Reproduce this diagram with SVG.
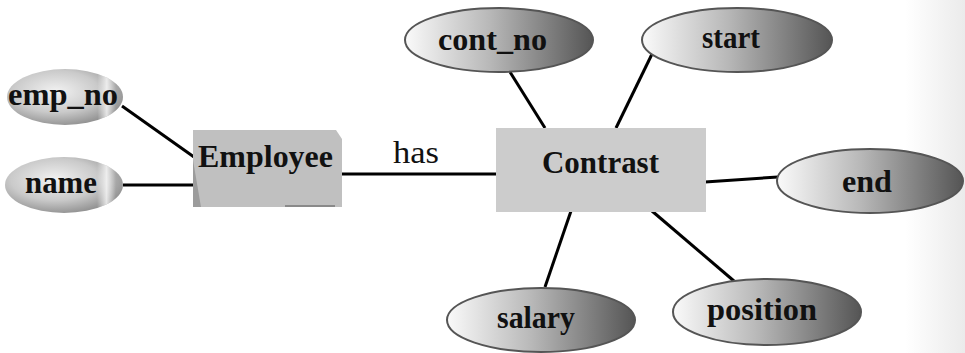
<svg xmlns="http://www.w3.org/2000/svg" width="965" height="353" viewBox="0 0 965 353">
  <defs>
    <linearGradient id="attrFill" x1="0" y1="0" x2="1" y2="0">
      <stop offset="0" stop-color="#fafafa"/>
      <stop offset="0.45" stop-color="#b8b8b8"/>
      <stop offset="1" stop-color="#555555"/>
    </linearGradient>
    <radialGradient id="keyFill" cx="0.42" cy="0.4" r="0.62">
      <stop offset="0" stop-color="#f2f2f2"/>
      <stop offset="0.6" stop-color="#cacaca"/>
      <stop offset="1" stop-color="#929292"/>
    </radialGradient>
    <linearGradient id="keyShine" x1="0" y1="0" x2="1" y2="0">
      <stop offset="0" stop-color="#ffffff" stop-opacity="0"/>
      <stop offset="0.78" stop-color="#ffffff" stop-opacity="0"/>
      <stop offset="0.86" stop-color="#ffffff" stop-opacity="0.75"/>
      <stop offset="0.94" stop-color="#ffffff" stop-opacity="0"/>
    </linearGradient>
    <linearGradient id="edge" x1="0" y1="0" x2="1" y2="0">
      <stop offset="0" stop-color="#ffffff"/>
      <stop offset="1" stop-color="#ebebeb"/>
    </linearGradient>
  </defs>
  <style>
    .lbl { font-family: "Liberation Serif", "DejaVu Serif", serif; font-weight: bold; font-size: 31px; fill: #111; }
    .rel { font-family: "Liberation Serif", "DejaVu Serif", serif; font-size: 32px; fill: #111; }
    .attr { fill: url(#attrFill); stroke: #555; stroke-width: 2; }
    .key { fill: url(#keyFill); }
    .shine { fill: url(#keyShine); }
    .link { stroke: #000; stroke-width: 3; fill: none; }
  </style>

  <rect x="0" y="0" width="965" height="353" fill="#ffffff"/>
  <rect x="905" y="0" width="60" height="353" fill="url(#edge)"/>

  <g id="connectors">
    <line class="link" x1="122" y1="106" x2="194" y2="157"/>
    <line class="link" x1="123" y1="185" x2="194" y2="185"/>
    <line class="link" x1="341" y1="174" x2="497" y2="174"/>
    <line class="link" x1="510" y1="72" x2="545" y2="128"/>
    <line class="link" x1="653" y1="52" x2="616" y2="128"/>
    <line class="link" x1="705" y1="182" x2="778" y2="177"/>
    <line class="link" x1="571" y1="211" x2="545" y2="287"/>
    <line class="link" x1="652" y1="211" x2="734" y2="281"/>
  </g>

  <g id="employee">
    <polygon points="193,130 336,130 342,139 342,207 193,207" fill="#c0c0c0"/>
    <polygon points="193,160 201,207 193,207" fill="#9c9c9c"/>
    <rect x="285" y="205" width="50" height="2" fill="#8a8a8a"/>
    <text class="lbl" x="198" y="167" textLength="135" lengthAdjust="spacingAndGlyphs">Employee</text>
  </g>

  <g id="contrast">
    <rect x="496" y="128" width="210" height="84" fill="#cccccc"/>
    <text class="lbl" x="542" y="173" textLength="117" lengthAdjust="spacingAndGlyphs">Contrast</text>
  </g>

  <g id="has">
    <text class="rel" x="393" y="163" textLength="46" lengthAdjust="spacingAndGlyphs">has</text>
  </g>

  <g id="emp_no">
    <ellipse class="key" cx="65" cy="97" rx="58" ry="28"/>
    <ellipse class="shine" cx="65" cy="97" rx="58" ry="28"/>
    <text class="lbl" x="8" y="105" textLength="110" lengthAdjust="spacingAndGlyphs">emp_no</text>
  </g>

  <g id="name">
    <ellipse class="key" cx="64" cy="185" rx="59" ry="28"/>
    <ellipse class="shine" cx="64" cy="185" rx="59" ry="28"/>
    <text class="lbl" x="25" y="193" textLength="72" lengthAdjust="spacingAndGlyphs">name</text>
  </g>

  <g id="cont_no">
    <ellipse class="attr" cx="499" cy="40" rx="94" ry="32"/>
    <text class="lbl" x="438" y="50" textLength="109" lengthAdjust="spacingAndGlyphs">cont_no</text>
  </g>

  <g id="start">
    <ellipse class="attr" cx="737" cy="40" rx="95" ry="32"/>
    <text class="lbl" x="702" y="48" textLength="58" lengthAdjust="spacingAndGlyphs">start</text>
  </g>

  <g id="end">
    <ellipse class="attr" cx="870" cy="181" rx="93" ry="32"/>
    <text class="lbl" x="842" y="192" textLength="50" lengthAdjust="spacingAndGlyphs">end</text>
  </g>

  <g id="salary">
    <ellipse class="attr" cx="541" cy="320" rx="94" ry="32"/>
    <text class="lbl" x="497" y="328" textLength="78" lengthAdjust="spacingAndGlyphs">salary</text>
  </g>

  <g id="position">
    <ellipse class="attr" cx="767" cy="312" rx="94" ry="33"/>
    <text class="lbl" x="707" y="320" textLength="110" lengthAdjust="spacingAndGlyphs">position</text>
  </g>
</svg>
